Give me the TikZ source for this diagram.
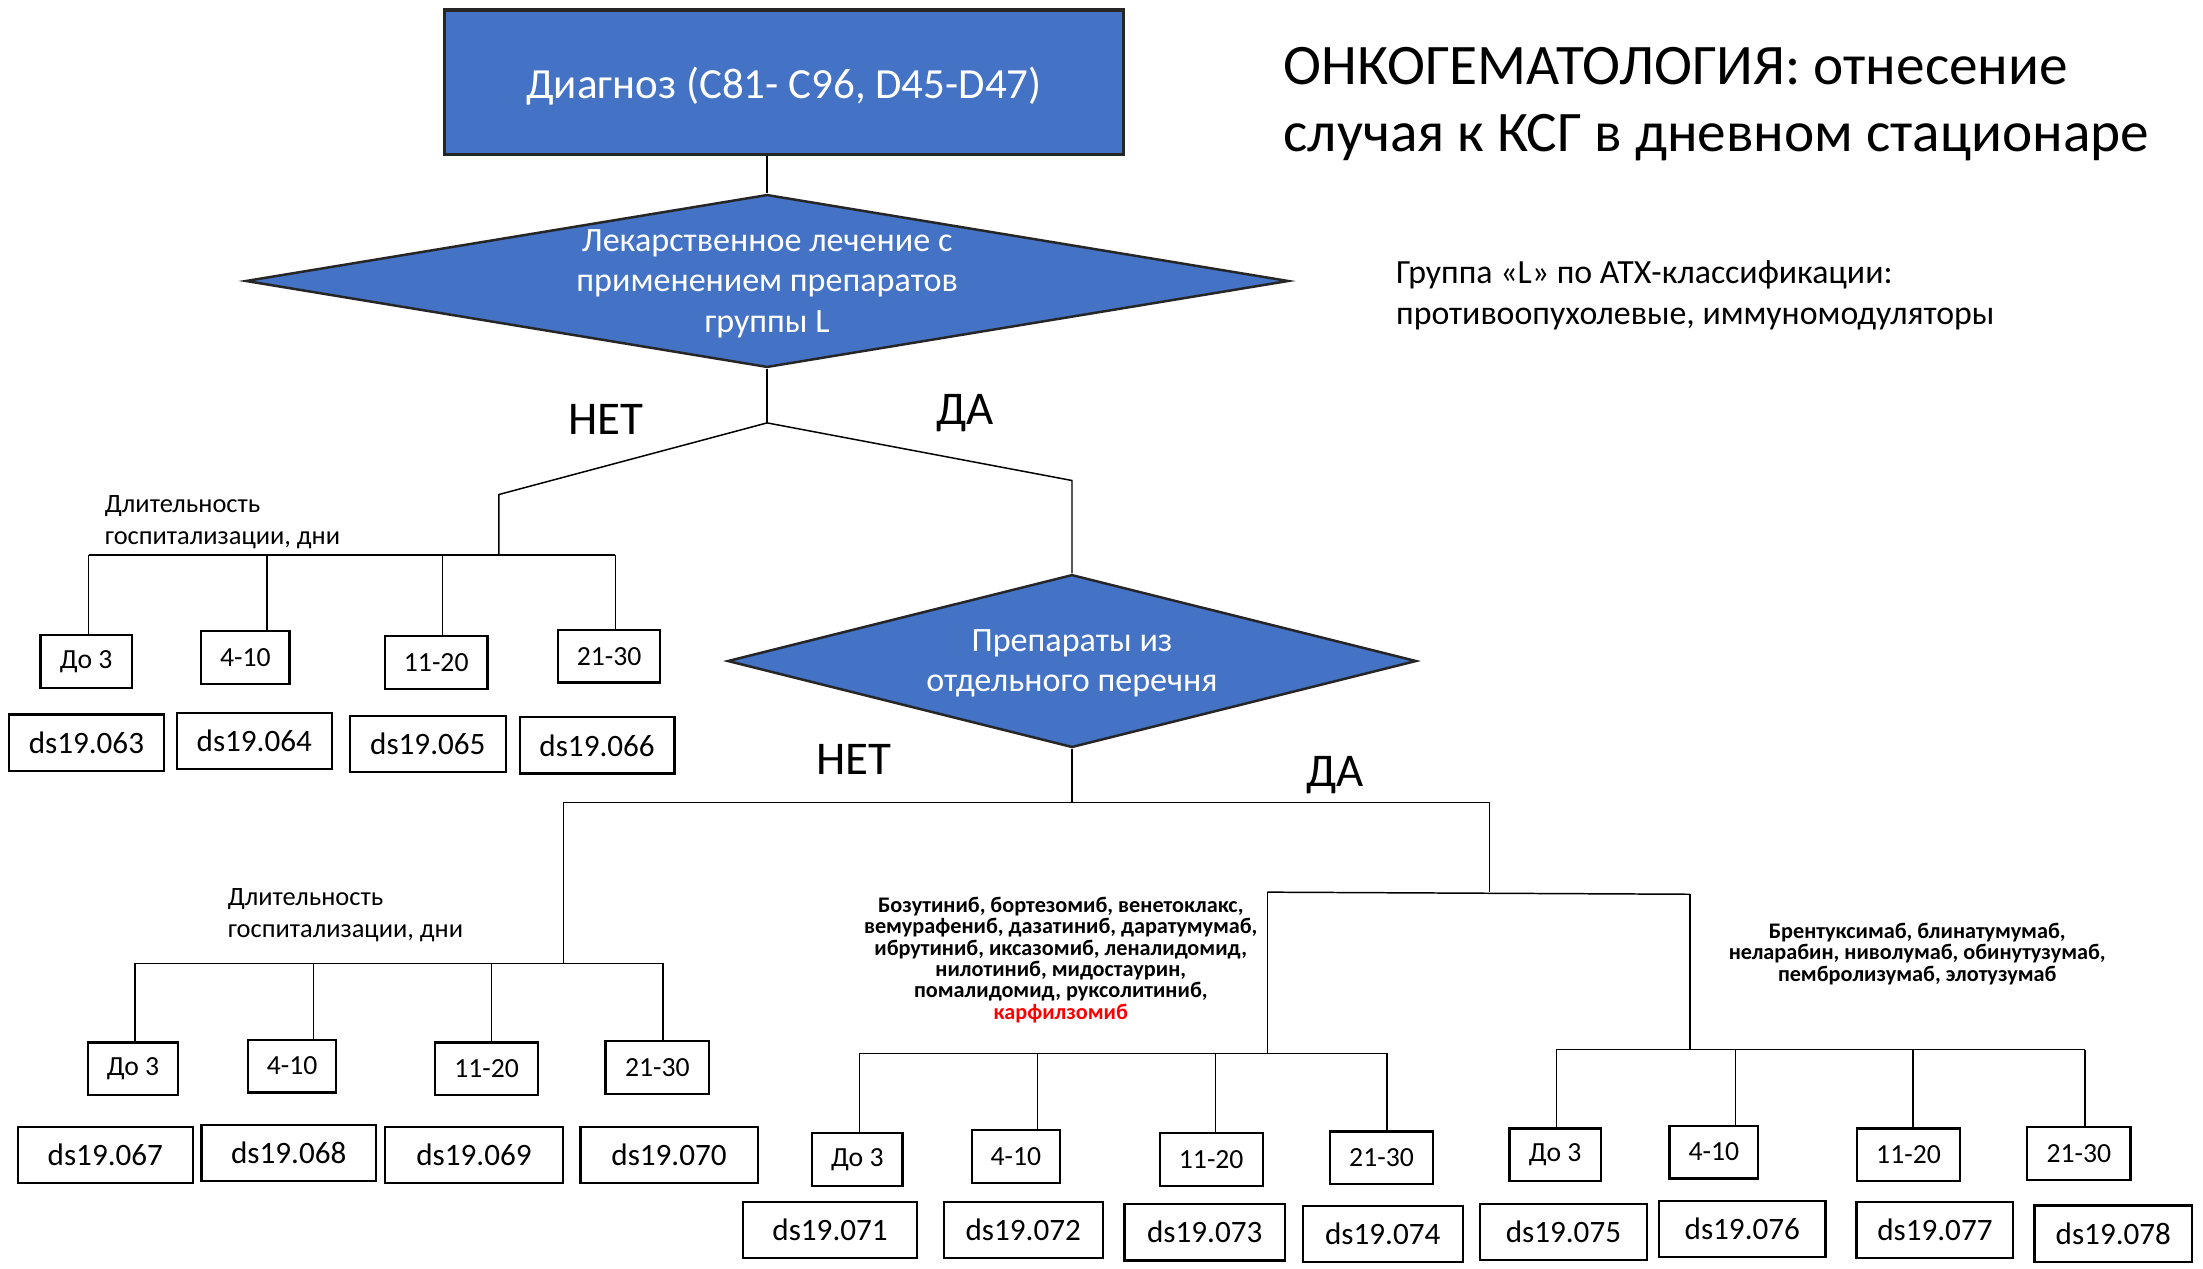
\documentclass[tikz,border=0pt]{standalone}
\usepackage{fontspec}
\setmainfont{Carlito}
\usetikzlibrary{shapes.geometric}
\definecolor{diagblue}{HTML}{4472C4}

\begin{document}
\begin{tikzpicture}[x = 0.01cm, y = -0.01cm,
	box/.style = {draw = black!85, line width = 0.7pt, fill = diagblue, text = white, inner sep = 0pt, font = \fontsize{8.7}{10.4}\selectfont},
	rhomb/.style = {diamond, draw = black!85, line width = 0.5pt, fill = diagblue, inner sep = 0pt},
	rhombtext/.style = {align = center, text = white, inner sep = 0pt, font = \fontsize{6.9}{8.1}\selectfont},
	rng/.style = {draw, line width = 0.45pt, minimum height = 0.375cm, inner sep = 0pt, font = \fontsize{5.6}{6.7}\selectfont},
	ksg/.style = {draw, line width = 0.45pt, minimum height = 0.4cm, inner sep = 0pt, font = \fontsize{6.3}{7.5}\selectfont},
	yesno/.style = {anchor = base, inner sep = 0pt, font = \fontsize{9.5}{11.4}\selectfont},
	stay/.style = {anchor = north west, align = left, inner sep = 0pt, font = \fontsize{5.35}{6.43}\selectfont},
	drugs/.style = {align = center, inner sep = 0pt, font = \bfseries\fontsize{4.5}{4.33}\selectfont},
	wire/.style = {line width = 0.3pt}]
	\useasboundingbox (0,0) rectangle (1568,903);

	\node[box, minimum width = 4.83cm, minimum height = 1.03cm, text height = 0.29cm, text depth = 0.06cm] (diag) at (558,58.5) {Диагноз (C81- C96, D45-D47)};
	\node[anchor = north west, align = left, inner sep = 0pt, font = \fontsize{11.6}{13.6}\selectfont] (title) at (913,33) {ОНКОГЕМАТОЛОГИЯ: отнесение\\случая к КСГ в дневном стационаре};
	\node[anchor = north west, align = left, inner sep = 0pt, font = \fontsize{6.85}{8.25}\selectfont] (note) at (993,185) {Группа «L» по АТХ-классификации:\\противоопухолевые, иммуномодуляторы};

	\node[rhomb, minimum width = 7.42cm, minimum height = 1.23cm] (drug) at (546,200) {};
	\node[rhombtext] (drugtxt) at (546,202) {Лекарственное лечение с\\применением препаратов\\группы L};
	\node[rhomb, minimum width = 4.9cm, minimum height = 1.23cm] (sel) at (763,470.5) {};
	\node[rhombtext] (seltxt) at (763,472) {Препараты из\\отдельного перечня};

	\node[yesno] (no1) at (431,309) {НЕТ};
	\node[yesno] (yes1) at (687,302) {ДА};
	\node[yesno] (no2) at (607.5,551.6) {НЕТ};
	\node[yesno] (yes2) at (950,560) {ДА};

	\node[stay] (stay1) at (74,352) {Длительность\\госпитализации, дни};
	\node[stay] (stay2) at (161.5,632) {Длительность\\госпитализации, дни};
	\node[drugs] (list1) at (755,683.3) {Бозутиниб, бортезомиб, венетоклакс,\\вемурафениб, дазатиниб, даратумумаб,\\ибрутиниб, иксазомиб, леналидомид,\\нилотиниб, мидостаурин,\\помалидомид, руксолитиниб,\\\textcolor{red}{карфилзомиб}};
	\node[drugs] (list2) at (1364.6,679) {Брентуксимаб, блинатумумаб,\\неларабин, ниволумаб, обинутузумаб,\\пембролизумаб, элотузумаб};

	\node[rng, minimum width = 0.65cm] (a1) at (61.3,470.8) {До 3};
	\node[rng, minimum width = 0.63cm] (a2) at (174.6,468) {4-10};
	\node[rng, minimum width = 0.73cm] (a3) at (310.5,471.5) {11-20};
	\node[rng, minimum width = 0.73cm] (a4) at (433.5,467) {21-30};
	\node[ksg, minimum width = 1.1cm] (ds063) at (61.5,528.5) {ds19.063};
	\node[ksg, minimum width = 1.1cm] (ds064) at (181,527.5) {ds19.064};
	\node[ksg, minimum width = 1.11cm] (ds065) at (304.5,529.5) {ds19.065};
	\node[ksg, minimum width = 1.1cm] (ds066) at (425,530.5) {ds19.066};

	\node[rng, minimum width = 0.645cm] (b1) at (94.7,760.7) {До 3};
	\node[rng, minimum width = 0.63cm] (b2) at (207.9,758.8) {4-10};
	\node[rng, minimum width = 0.735cm] (b3) at (346.3,760.7) {11-20};
	\node[rng, minimum width = 0.737cm] (b4) at (467.9,759.8) {21-30};
	\node[ksg, minimum width = 1.246cm] (ds067) at (75,822) {ds19.067};
	\node[ksg, minimum width = 1.242cm] (ds068) at (205.5,820.8) {ds19.068};
	\node[ksg, minimum width = 1.264cm] (ds069) at (337.4,822.2) {ds19.069};
	\node[ksg, minimum width = 1.261cm] (ds070) at (476.2,822.2) {ds19.070};

	\node[rng, minimum width = 0.644cm] (c1) at (610.2,825.2) {До 3};
	\node[rng, minimum width = 0.629cm] (c2) at (723.1,823.3) {4-10};
	\node[rng, minimum width = 0.734cm] (c3) at (862.1,825.2) {11-20};
	\node[rng, minimum width = 0.734cm] (c4) at (983.3,824.1) {21-30};
	\node[ksg, minimum width = 1.242cm] (ds071) at (590.8,875.4) {ds19.071};
	\node[ksg, minimum width = 1.13cm] (ds072) at (728.3,875.4) {ds19.072};
	\node[ksg, minimum width = 1.143cm] (ds073) at (857.5,877.1) {ds19.073};
	\node[ksg, minimum width = 1.137cm] (ds074) at (984.2,878.2) {ds19.074};

	\node[rng, minimum width = 0.65cm] (d1) at (1106.9,822) {До 3};
	\node[rng, minimum width = 0.63cm] (d2) at (1219.8,820) {4-10};
	\node[rng, minimum width = 0.732cm] (d3) at (1358.4,822) {11-20};
	\node[rng, minimum width = 0.734cm] (d4) at (1479.7,821) {21-30};
	\node[ksg, minimum width = 1.188cm] (ds075) at (1112.8,877) {ds19.075};
	\node[ksg, minimum width = 1.182cm] (ds076) at (1240.1,874.6) {ds19.076};
	\node[ksg, minimum width = 1.115cm] (ds077) at (1377.2,875.3) {ds19.077};
	\node[ksg, minimum width = 1.123cm] (ds078) at (1504.2,878) {ds19.078};

	\coordinate (fork1) at (546,301);
	\coordinate (elbow1) at (355,352);
	\coordinate (elbow2) at (763,342);
	\coordinate (fork2) at (763,571);
	\coordinate (left2) at (401,571);
	\coordinate (right2) at (1060,571);
	\coordinate (fork3) at (1060,635);
	\coordinate (left3) at (902,635);
	\coordinate (right3) at (1203,636.5);

	\coordinate (a1t) at (63,395);
	\coordinate (a2t) at (190,395);
	\coordinate (a3t) at (315,395);
	\coordinate (a4t) at (438,395);
	\coordinate (b1t) at (96.2,685.6);
	\coordinate (b2t) at (223,685.6);
	\coordinate (b3t) at (349.7,685.6);
	\coordinate (b4t) at (472,685.6);
	\coordinate (c1t) at (611.9,749.7);
	\coordinate (c2t) at (738.6,749.7);
	\coordinate (c3t) at (865,749.7);
	\coordinate (c4t) at (987.3,749.7);
	\coordinate (d1t) at (1107.8,747);
	\coordinate (d2t) at (1235.2,747);
	\coordinate (d3t) at (1361.5,747);
	\coordinate (d4t) at (1483.9,747);

	\draw[wire] (diag.south -| drug.north) -- (drug.north);
	\draw[wire] (drug.south) -- (fork1);
	\draw[wire] (fork1) -- (elbow1) -- (elbow1 |- a1t);
	\draw[wire] (fork1) -- (elbow2) -- (sel.north);
	\draw[wire] (sel.south) -- (fork2);
	\draw[wire] (left2) -- (right2);
	\draw[wire] (left2) -- (left2 |- b1t);
	\draw[wire] (right2) -- (fork3);
	\draw[wire] (left3) -- (right3);
	\draw[wire] (left3) -- (left3 |- c1t);
	\draw[wire] (right3) -- (right3 |- d1t);

	\draw[wire] (a1t) -- (a4t)
		(a1t) -- (a1t |- a1.north)
		(a2t) -- (a2t |- a2.north)
		(a3t) -- (a3t |- a3.north)
		(a4t) -- (a4t |- a4.north);
	\draw[wire] (b1t) -- (b4t)
		(b1t) -- (b1t |- b1.north)
		(b2t) -- (b2t |- b2.north)
		(b3t) -- (b3t |- b3.north)
		(b4t) -- (b4t |- b4.north);
	\draw[wire] (c1t) -- (c4t)
		(c1t) -- (c1t |- c1.north)
		(c2t) -- (c2t |- c2.north)
		(c3t) -- (c3t |- c3.north)
		(c4t) -- (c4t |- c4.north);
	\draw[wire] (d1t) -- (d4t)
		(d1t) -- (d1t |- d1.north)
		(d2t) -- (d2t |- d2.north)
		(d3t) -- (d3t |- d3.north)
		(d4t) -- (d4t |- d4.north);
\end{tikzpicture}
\end{document}
